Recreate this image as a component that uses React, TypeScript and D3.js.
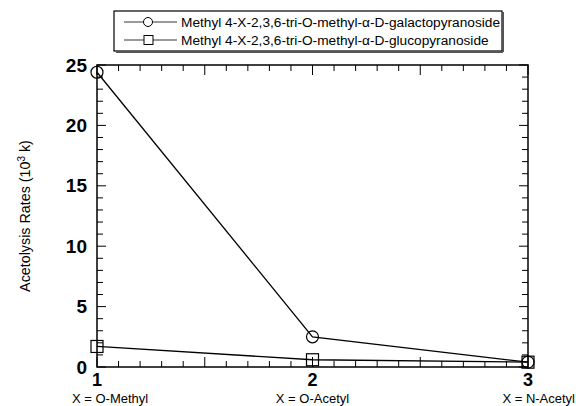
import React from "react";
import * as d3 from "d3";

const xValues = [1, 2, 3];
const xCategoryLabels = ["X = O-Methyl", "X = O-Acetyl", "X = N-Acetyl"];
const galactoValues = [24.4, 2.5, 0.4];
const glucoValues = [1.7, 0.6, 0.4];
const yTicks = [0, 5, 10, 15, 20, 25];
const seriesNames = [
  "Methyl 4-X-2,3,6-tri-O-methyl-\u03b1-D-galactopyranoside",
  "Methyl 4-X-2,3,6-tri-O-methyl-\u03b1-D-glucopyranoside",
];

const App = () => {
  const width = 576;
  const height = 406;
  const margin = { top: 65, right: 48, bottom: 39, left: 97 };

  // scales
  const x = d3.scaleLinear().domain([1, 3]).range([margin.left, width - margin.right]);
  const y = d3.scaleLinear().domain([0, 25]).range([height - margin.bottom, margin.top]);

  const line = d3.line<number>()
    .x((_, i) => x(xValues[i]))
    .y(d => y(d));

  const x0 = x(1), x1 = x(3), y0 = y(0), y1 = y(25);

  // minor ticks
  const yMinor = d3.range(0, 26, 1);
  const xMinor = d3.range(10, 31, 1).map(v => v / 10);

  const font = "Liberation Sans, Arial, Helvetica, sans-serif";

  return (
    <svg width={width} height={height} style={{ position: "absolute", left: 0, top: 0, background: "#fff" }}>
      {/* legend */}
      <g>
        <rect x={114} y={11} width={388} height={40} fill="#fff" stroke="#000" strokeWidth={1.2} />
        <line x1={116} y1={52} x2={503} y2={52} stroke="#555" strokeWidth={2} />
        <line x1={503} y1={12} x2={503} y2={52} stroke="#555" strokeWidth={2} />
        {seriesNames.map((name, i) => {
          const ly = 22 + i * 18;
          return (
            <g key={name}>
              <line x1={124} x2={177} y1={ly} y2={ly} stroke="#000" strokeWidth={0.8} />
              {i === 0
                ? <circle cx={148} cy={ly} r={4.5} fill="#fff" stroke="#000" strokeWidth={1} />
                : <rect x={144} y={ly - 4.5} width={9} height={9} fill="#fff" stroke="#000" strokeWidth={1} />}
              <text x={181} y={ly + 5} fontFamily={font} fontSize={13.7} fill="#000">{name}</text>
            </g>
          );
        })}
      </g>

      {/* frame */}
      <rect x={x0} y={y1} width={x1 - x0} height={y0 - y1} fill="none" stroke="#000" strokeWidth={1.5} />

      {/* y ticks left and right */}
      {yMinor.map(v => {
        const len = v % 5 === 0 ? 9 : 6;
        return (
          <g key={"y" + v}>
            <line x1={x0} x2={x0 + len} y1={y(v)} y2={y(v)} stroke="#000" strokeWidth={1} />
            <line x1={x1} x2={x1 - len} y1={y(v)} y2={y(v)} stroke="#000" strokeWidth={1} />
          </g>
        );
      })}
      {/* x ticks bottom and top */}
      {xMinor.map(v => {
        const major = Math.abs(v * 2 - Math.round(v * 2)) < 1e-6;
        const len = major ? 10 : 6;
        return (
          <g key={"x" + v}>
            <line x1={x(v)} x2={x(v)} y1={y0} y2={y0 - len} stroke="#000" strokeWidth={1} />
            <line x1={x(v)} x2={x(v)} y1={y1} y2={y1 + len} stroke="#000" strokeWidth={1} />
          </g>
        );
      })}

      {/* y tick labels */}
      {yTicks.map(t => (
        <text key={"yl" + t} x={87} y={y(t) + 6.5} textAnchor="end" fontFamily={font}
          fontSize={19} fontWeight="bold" fill="#000">{t}</text>
      ))}

      {/* x tick labels */}
      {xValues.map(v => (
        <text key={"xl" + v} x={x(v)} y={386} textAnchor="middle" fontFamily={font}
          fontSize={18} fontWeight="bold" fill="#000">{v}</text>
      ))}
      {xCategoryLabels.map((lab, i) => (
        <text key={lab} x={i === 0 ? 72 : i === 1 ? x(2) : 575} y={403}
          textAnchor={i === 0 ? "start" : i === 1 ? "middle" : "end"}
          fontFamily={font} fontSize={13} fill="#000">{lab}</text>
      ))}

      {/* y axis title */}
      <text transform={`translate(30,${(y0 + y1) / 2}) rotate(-90)`} textAnchor="middle"
        fontFamily={font} fontSize={14.3} fill="#000">
        Acetolysis Rates (10<tspan dy={-5} fontSize={10}>3</tspan><tspan dy={5}> k)</tspan>
      </text>

      {/* series */}
      <path d={line(galactoValues) || ""} fill="none" stroke="#000" strokeWidth={1.3} />
      <path d={line(glucoValues) || ""} fill="none" stroke="#000" strokeWidth={1.3} />
      {galactoValues.map((v, i) => (
        <circle key={"g" + i} cx={x(xValues[i])} cy={y(v)} r={6} fill="none" stroke="#000" strokeWidth={1.2} />
      ))}
      {glucoValues.map((v, i) => (
        <rect key={"c" + i} x={x(xValues[i]) - 6} y={y(v) - 6} width={12} height={12}
          fill="none" stroke="#000" strokeWidth={1.2} />
      ))}
    </svg>
  );
};

export default App;
